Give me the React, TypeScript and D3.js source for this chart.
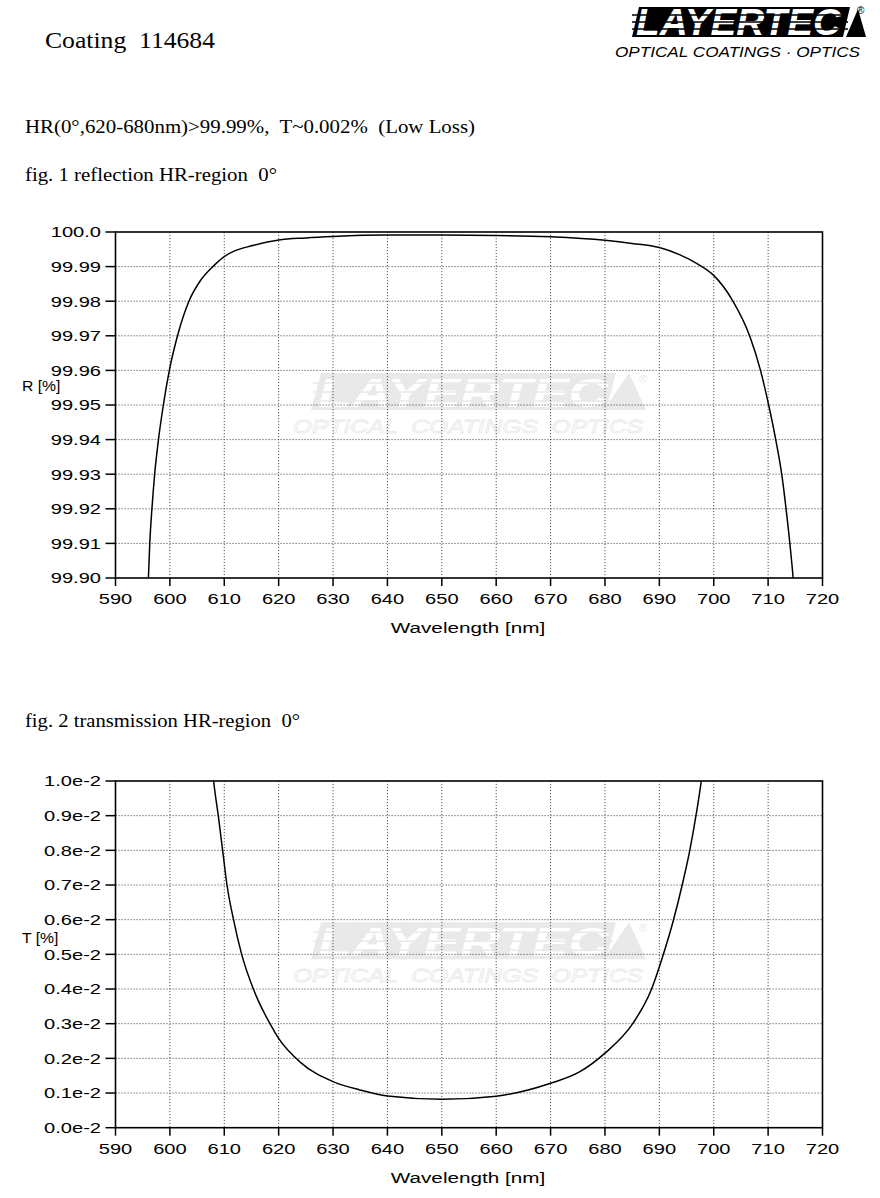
import React from 'react';
import * as d3 from 'd3';

// ---------- data ----------
const xTicks = [590, 600, 610, 620, 630, 640, 650, 660, 670, 680, 690, 700, 710, 720];

const rTicks = [99.90, 99.91, 99.92, 99.93, 99.94, 99.95, 99.96, 99.97, 99.98, 99.99, 100.0];
const rTickLabels = ['99.90', '99.91', '99.92', '99.93', '99.94', '99.95', '99.96', '99.97', '99.98', '99.99', '100.0'];

const tTicks = [0, 0.1, 0.2, 0.3, 0.4, 0.5, 0.6, 0.7, 0.8, 0.9, 1.0]; // units of 1e-2 %
const tTickLabels = ['0.0e-2', '0.1e-2', '0.2e-2', '0.3e-2', '0.4e-2', '0.5e-2', '0.6e-2', '0.7e-2', '0.8e-2', '0.9e-2', '1.0e-2'];

const reflWl = [595.9, 596.05, 596.3, 596.7, 597.2, 597.9, 598.8, 599.9, 601.4, 603.5, 605.5, 607.9, 610, 612, 615, 620, 625, 630, 640, 650, 660, 670, 680, 685, 690, 693.8, 697, 699.9, 703.5, 706.6, 708.6, 710.1, 711.4, 712.5, 713.3, 714.0, 714.6, 714.8];
const reflR = [99.896, 99.90, 99.91, 99.92, 99.93, 99.94, 99.95, 99.96, 99.97, 99.98, 99.9857, 99.99, 99.9929, 99.9946, 99.996, 99.9977, 99.9983, 99.9987, 99.9991, 99.9991, 99.999, 99.9986, 99.9976, 99.9967, 99.9955, 99.9934, 99.9908, 99.9876, 99.9801, 99.97, 99.96, 99.95, 99.94, 99.93, 99.92, 99.91, 99.90, 99.896];

const transWl = [607.7, 608.05, 608.9, 609.7, 610.5, 611.7, 613.2, 615.35, 618.4, 619.9, 623.9, 630, 634.9, 640, 650, 660, 670, 675.4, 680, 685.1, 688.5, 690.7, 692.6, 694.2, 695.6, 696.7, 697.7, 698.0];
const transT = [1.06, 1.0, 0.9, 0.8, 0.7, 0.6, 0.5, 0.4, 0.3, 0.26, 0.19, 0.133, 0.109, 0.0913, 0.082, 0.091, 0.128, 0.1615, 0.215, 0.30, 0.397, 0.498, 0.599, 0.70, 0.80, 0.897, 1.0, 1.04];

// ---------- layout ----------
const LEFT = 115.5;
const RIGHT = 822.5;
const FONT = '"Liberation Sans", Arial, sans-serif';
const SERIF = '"Liberation Serif", "Times New Roman", serif';

const xScale = d3.scaleLinear().domain([590, 720]).range([LEFT, RIGHT]);

function STxt({ x, y, anchor, size, sx, children }: any) {
  return (
    <text
      transform={`translate(${x},${y}) scale(${sx},1)`}
      textAnchor={anchor}
      fontFamily={FONT}
      fontSize={size}
      fill="#000"
    >
      {children}
    </text>
  );
}

function Watermark({ cx, cy }: { cx: number; cy: number }) {
  const g = '#e9e9e9';
  return (
    <g>
      <polygon
        points={`${cx - 160},${cy + 5} ${cx - 150},${cy - 32} ${cx + 145},${cy - 32} ${cx + 135},${cy + 5}`}
        fill={g}
      />
      <text
        x={cx - 8}
        y={cy + 2}
        textAnchor="middle"
        fontFamily={FONT}
        fontStyle="italic"
        fontWeight="bold"
        fontSize={40}
        textLength={290}
        lengthAdjust="spacingAndGlyphs"
        fill="#fff"
      >
        LAYERTEC
      </text>
      {[-22, -13, -4].map((d) => (
        <line key={d} x1={cx - 158} x2={cx + 142} y1={cy + d} y2={cy + d} stroke={g} strokeWidth={1.5} />
      ))}
      <polygon points={`${cx + 133},${cy + 5} ${cx + 158},${cy - 32} ${cx + 175},${cy + 5}`} fill={g} />
      <text x={cx + 168} y={cy - 22} fontFamily={FONT} fontSize={11} fill={g}>
        ®
      </text>
      <text
        x={cx - 178}
        y={cy + 28}
        fontFamily={FONT}
        fontStyle="italic"
        fontSize={19}
        textLength={350}
        lengthAdjust="spacingAndGlyphs"
        fill="none"
        stroke={g}
        strokeWidth={0.8}
        style={{ whiteSpace: 'pre' }}
      >
        {'OPTICAL  COATINGS  OPTICS'}
      </text>
    </g>
  );
}

function Chart({ top, bottom, yDomain, yTicks, yLabels, xs, ys, yTitle, yTitleY, clipId }: any) {
  const yScale = d3.scaleLinear().domain(yDomain).range([bottom, top]);
  const line = d3
    .line<number>()
    .x((_, i) => xScale(xs[i]))
    .y((d) => yScale(d))
    .curve(d3.curveMonotoneX);
  const path = line(ys) || '';
  const cx = (LEFT + RIGHT) / 2 + 2;
  const cy = yScale(yDomain[0] + (yDomain[1] - yDomain[0]) * 0.5);
  return (
    <g>
      <defs>
        <clipPath id={clipId}>
          <rect x={LEFT} y={top} width={RIGHT - LEFT} height={bottom - top} />
        </clipPath>
      </defs>
      <rect x={LEFT} y={top} width={RIGHT - LEFT} height={bottom - top} fill="#fff" />
      <Watermark cx={cx} cy={cy} />
      {xTicks.slice(1, -1).map((t) => (
        <line key={'gx' + t} x1={xScale(t)} x2={xScale(t)} y1={top} y2={bottom} stroke="#555" strokeWidth={1} strokeDasharray="1.2,1.8" />
      ))}
      {yTicks.slice(1, -1).map((t: number) => (
        <line key={'gy' + t} x1={LEFT} x2={RIGHT} y1={yScale(t)} y2={yScale(t)} stroke="#555" strokeWidth={1} strokeDasharray="1.2,1.8" />
      ))}
      <path d={path} fill="none" stroke="#000" strokeWidth={1.5} clipPath={`url(#${clipId})`} />
      <rect x={LEFT} y={top} width={RIGHT - LEFT} height={bottom - top} fill="none" stroke="#000" strokeWidth={1.6} />
      {yTicks.map((t: number, i: number) => (
        <g key={'yt' + t}>
          <line x1={LEFT - 10} x2={LEFT} y1={yScale(t)} y2={yScale(t)} stroke="#000" strokeWidth={1.5} />
          <STxt x={101} y={yScale(t) + 5.3} anchor="end" size={15} sx={1.34}>
            {yLabels[i]}
          </STxt>
        </g>
      ))}
      {xTicks.map((t) => (
        <g key={'xt' + t}>
          <line x1={xScale(t)} x2={xScale(t)} y1={bottom} y2={bottom + 8} stroke="#000" strokeWidth={1.5} />
          <STxt x={xScale(t)} y={bottom + 26} anchor="middle" size={15} sx={1.34}>
            {t}
          </STxt>
        </g>
      ))}
      <STxt x={468} y={bottom + 55} anchor="middle" size={15} sx={1.38}>
        Wavelength [nm]
      </STxt>
      <STxt x={22} y={yTitleY} anchor="start" size={15} sx={1.05}>
        {yTitle}
      </STxt>
    </g>
  );
}

function Logo() {
  return (
    <g>
      <polygon points="632,37 639,7 850,7 843,37" fill="#000" />
      <text
        x={636}
        y={35}
        fontFamily={FONT}
        fontStyle="italic"
        fontWeight="bold"
        fontSize={36}
        textLength={205}
        lengthAdjust="spacingAndGlyphs"
        fill="#fff"
      >
        LAYERTEC
      </text>
      {[15, 22, 29].map((y) => (
        <line key={y} x1={632} x2={848} y1={y} y2={y} stroke="#000" strokeWidth={1.6} />
      ))}
      <polygon points="846,37 858,9 866,37" fill="#000" />
      <text x={857} y={14} fontFamily={FONT} fontSize={10} fill="#000">
        ®
      </text>
      <text
        x={615}
        y={56.5}
        fontFamily={FONT}
        fontStyle="italic"
        fontSize={14.5}
        textLength={245}
        lengthAdjust="spacingAndGlyphs"
        fill="#000"
        style={{ whiteSpace: 'pre' }}
      >
        {'OPTICAL COATINGS · OPTICS'}
      </text>
    </g>
  );
}

export default function App() {
  return (
    <svg
      width={880}
      height={1198}
      viewBox="0 0 880 1198"
      style={{ position: 'absolute', left: 0, top: 0, background: '#fff' }}
    >
      <rect x={0} y={0} width={880} height={1198} fill="#fff" />
      <text x={45} y={48} fontFamily={SERIF} fontSize={24} textLength={170} lengthAdjust="spacingAndGlyphs" style={{ whiteSpace: 'pre' }}>
        {'Coating  114684'}
      </text>
      <Logo />
      <text x={25} y={133} fontFamily={SERIF} fontSize={19} textLength={450} lengthAdjust="spacingAndGlyphs" style={{ whiteSpace: 'pre' }}>
        {'HR(0°,620-680nm)>99.99%,  T~0.002%  (Low Loss)'}
      </text>
      <text x={25} y={181} fontFamily={SERIF} fontSize={19} textLength={252} lengthAdjust="spacingAndGlyphs" style={{ whiteSpace: 'pre' }}>
        {'fig. 1 reflection HR-region  0°'}
      </text>
      <text x={25} y={727} fontFamily={SERIF} fontSize={19} textLength={275} lengthAdjust="spacingAndGlyphs" style={{ whiteSpace: 'pre' }}>
        {'fig. 2 transmission HR-region  0°'}
      </text>
      <Chart
        top={232}
        bottom={578}
        yDomain={[99.9, 100.0]}
        yTicks={rTicks}
        yLabels={rTickLabels}
        xs={reflWl}
        ys={reflR}
        yTitle="R [%]"
        yTitleY={391}
        clipId="clip1"
      />
      <Chart
        top={781}
        bottom={1127.7}
        yDomain={[0, 1.0]}
        yTicks={tTicks}
        yLabels={tTickLabels}
        xs={transWl}
        ys={transT}
        yTitle="T [%]"
        yTitleY={943}
        clipId="clip2"
      />
    </svg>
  );
}
